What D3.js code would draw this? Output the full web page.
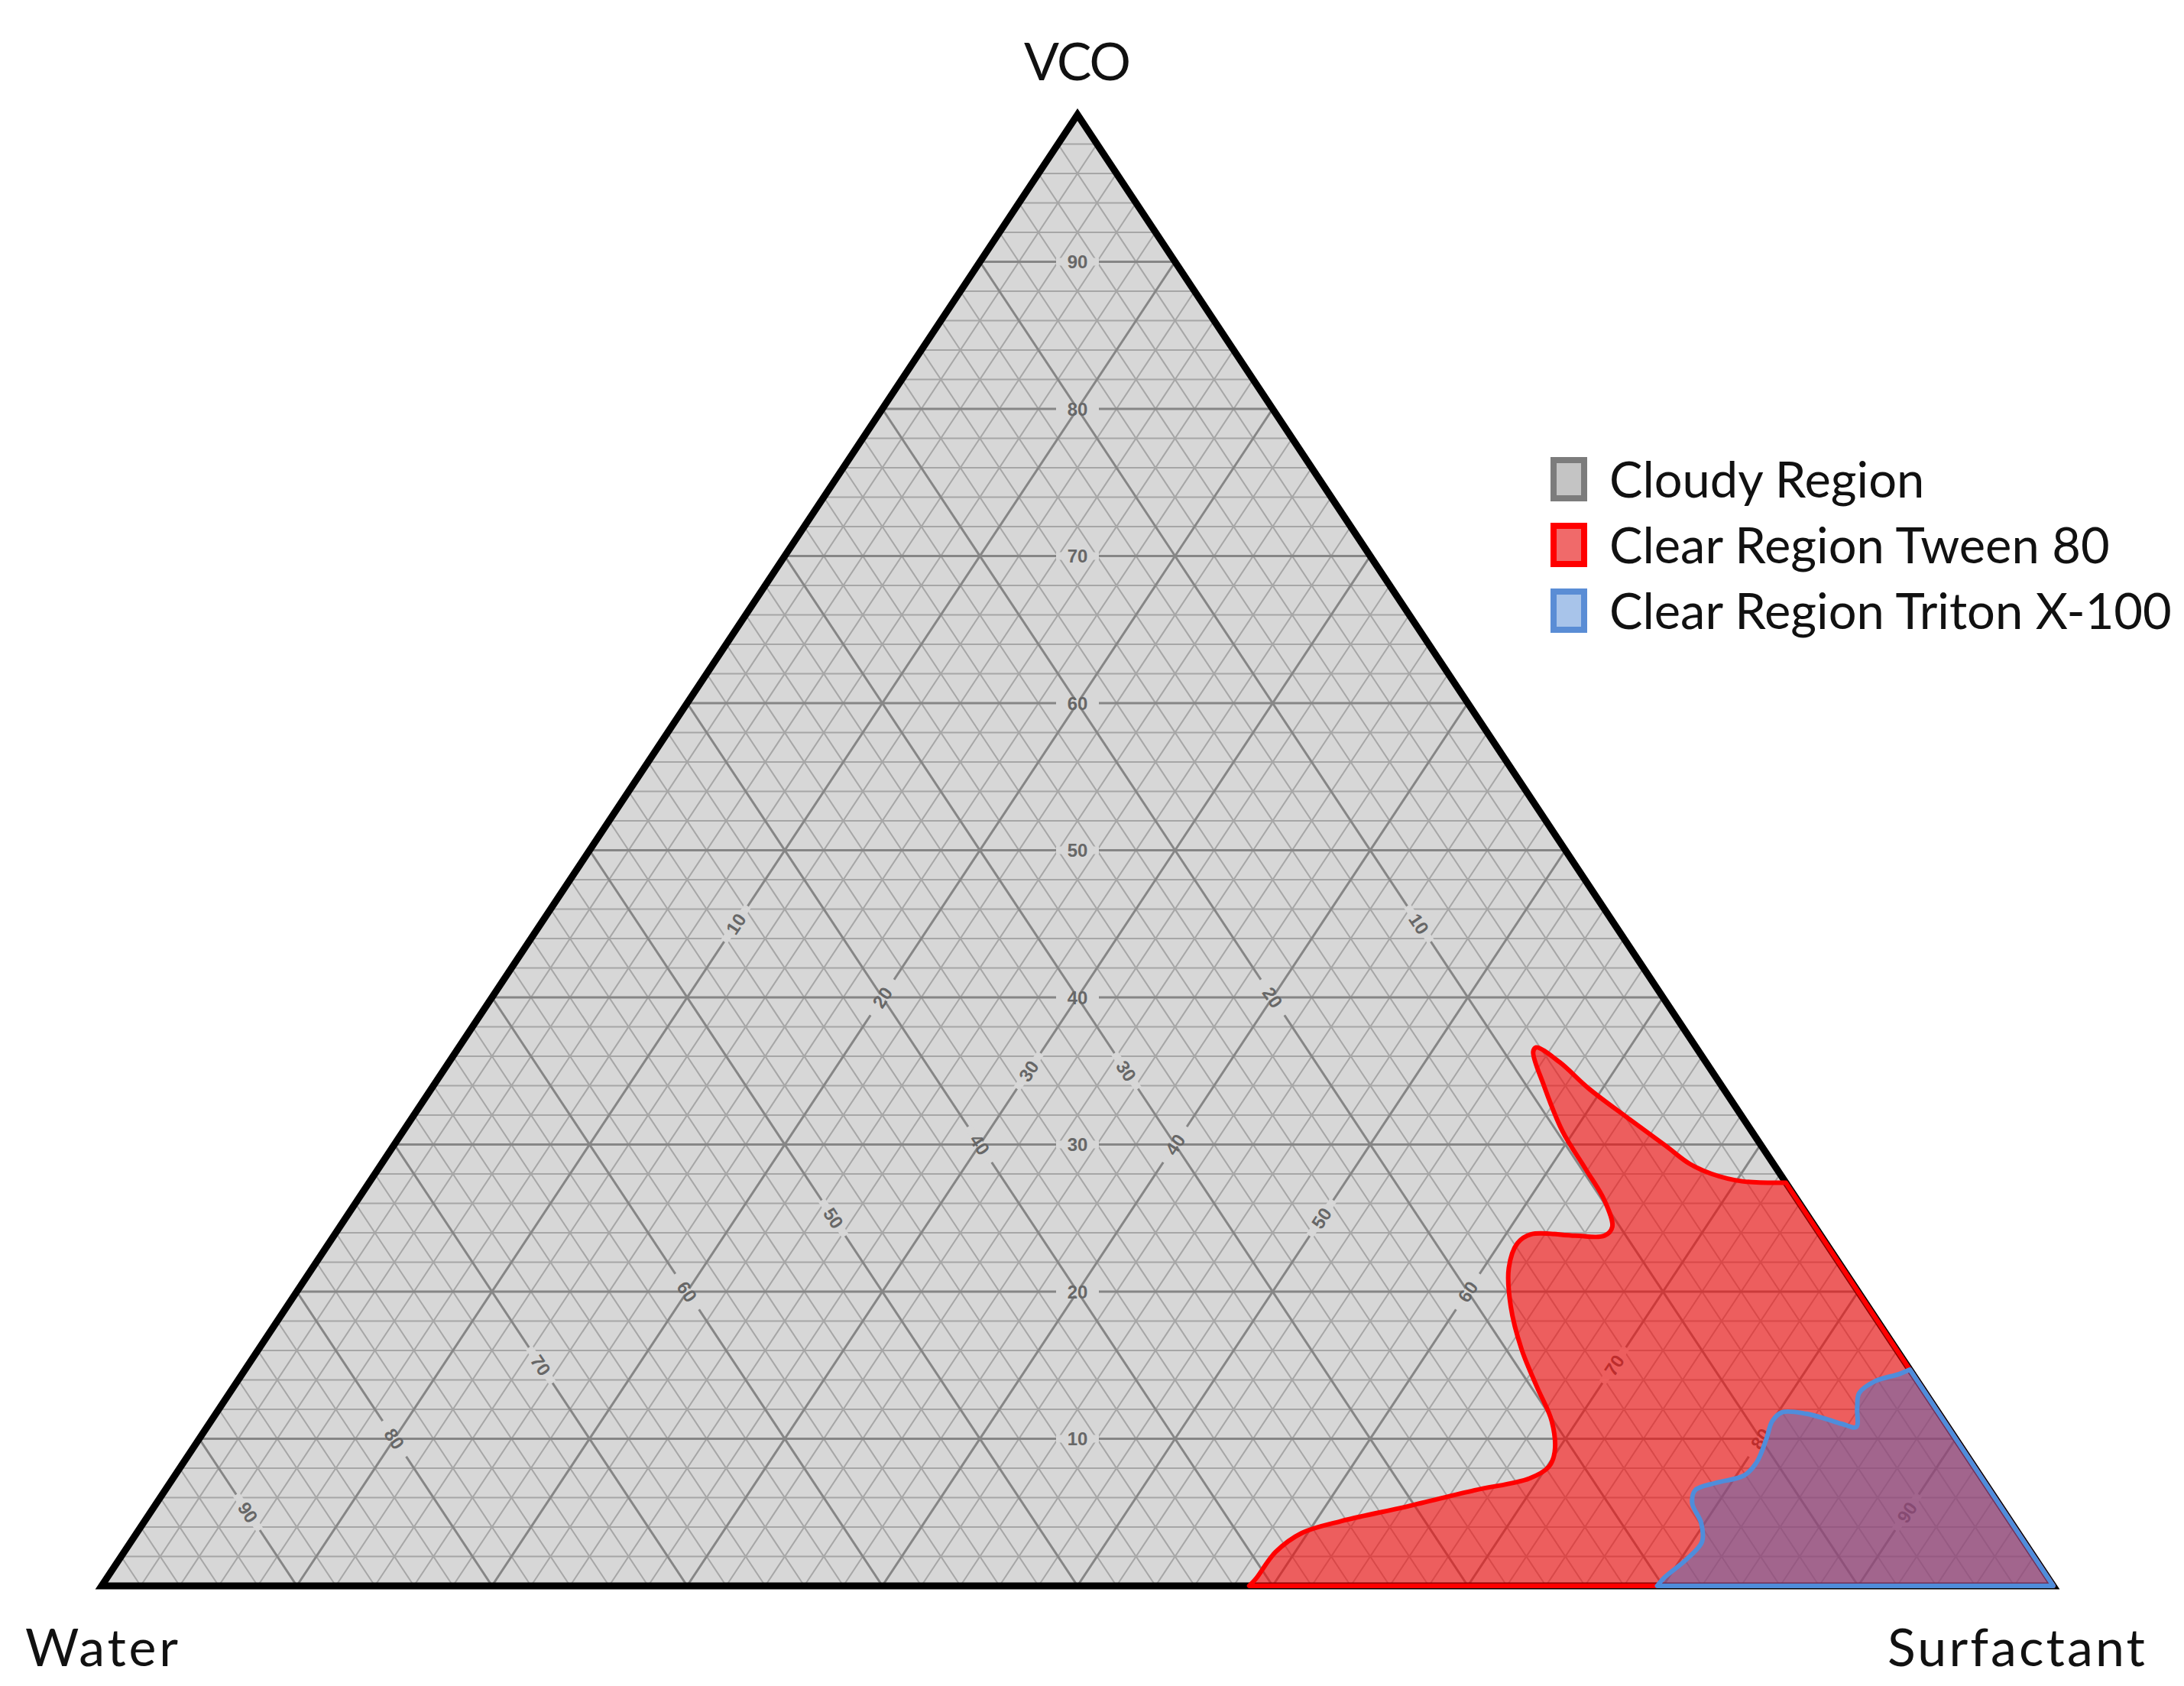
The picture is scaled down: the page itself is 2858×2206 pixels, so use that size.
<!DOCTYPE html>
<html>
<head>
<meta charset="utf-8">
<script src="https://cdn.jsdelivr.net/npm/d3@7"></script>
<style>
  html, body { margin: 0; padding: 0; background: #ffffff; }
  svg { display: block; }
</style>
</head>
<body>
<script>
// ---------------- DATA ----------------
const componentNames = ["VCO", "Water", "Surfactant"];
const majorTicks = [10, 20, 30, 40, 50, 60, 70, 80, 90];
const minorTicks = [2,4,6,8,12,14,16,18,22,24,26,28,32,34,36,38,42,44,46,48,52,54,56,58,62,64,66,68,72,74,76,78,82,84,86,88,92,94,96,98];

const legendLabels = ["Cloudy Region", "Clear Region Tween 80", "Clear Region Triton X-100"];

// Clear region (Tween 80) boundary, % : VCO, Surfactant (Water = 100 - VCO - Surfactant)
const tweenVCO  = [27.4,27.5,28.0,28.7,29.9,31.8,33.8,35.6,36.6,36.3,34.0,30.9,28.3,26.2,24.4,23.8,23.8,23.9,23.3,21.6,19.0,16.1,13.5,11.2,9.1,8.1,7.3,6.5,5.4,4.4,3.6,2.3,0.5,0];
const tweenSurf = [72.6,70.3,68.5,67.0,65.2,62.3,59.3,56.9,55.2,55.2,56.9,59.4,61.9,63.9,65.2,65.1,63.6,61.3,60.9,61.3,62.7,64.7,66.8,68.7,69.9,70.1,69.5,67.1,64.2,61.3,59.7,59.0,58.9,58.8];

// Clear region (Triton X-100) boundary, %
const tritonVCO  = [14.7,14.4,13.9,13.1,12.1,10.8,11.0,11.3,11.7,11.8,11.2,10.0,8.4,7.5,7.0,6.5,5.6,4.3,3.0,1.8,0.6,0];
const tritonSurf = [85.3,84.9,83.9,83.5,83.9,84.5,83.7,82.8,81.5,80.2,80.0,80.3,80.6,80.4,79.2,78.4,78.7,79.8,80.5,80.3,79.8,79.7];

// ---------------- LAYOUT ----------------
const W = 2858, H = 2206;
const svg = d3.select("body").append("svg").attr("width", W).attr("height", H);

// ternary position: x from (surfactant + vco/2), y from vco
const xScale = d3.scaleLinear().domain([0, 100]).range([133, 2687]);
const yScale = d3.scaleLinear().domain([0, 100]).range([2075, 150]);
const pt = (v, s) => [xScale(s + v / 2), yScale(v)];

const fillGray = "#d7d7d7";

// triangle
const tri = [pt(100, 0), pt(0, 0), pt(0, 100)];
svg.append("path")
  .attr("d", "M" + tri.map(p => p.join(",")).join("L") + "Z")
  .attr("fill", fillGray);

// grid
const gGrid = svg.append("g");
function gridLines(ticks, color, width) {
  ticks.forEach(t => {
    const segs = [
      [pt(t, 0), pt(t, 100 - t)],            // VCO constant
      [pt(0, t), pt(100 - t, t)],            // Surfactant constant
      [pt(0, 100 - t), pt(100 - t, 0)]       // Water constant
    ];
    segs.forEach(sg => {
      gGrid.append("line")
        .attr("x1", sg[0][0]).attr("y1", sg[0][1])
        .attr("x2", sg[1][0]).attr("y2", sg[1][1])
        .attr("stroke", color).attr("stroke-width", width);
    });
  });
}
gridLines(minorTicks, "#a6a6a6", 2);
gridLines(majorTicks, "#868686", 3);

// tick labels along medians
const angLeft = Math.atan2(yScale(100) - yScale(0), xScale(50) - xScale(0)) * 180 / Math.PI; // ~ -56
const gLab = svg.append("g");
function tickLabel(p, angle, txt) {
  const g = gLab.append("g").attr("transform", `translate(${p[0]},${p[1]}) rotate(${angle})`);
  g.append("rect").attr("x", -28).attr("y", -5).attr("width", 56).attr("height", 10).attr("fill", fillGray);
  g.append("text").attr("text-anchor", "middle").attr("dy", "0.36em")
    .attr("font-family", "Liberation Sans, Arial, sans-serif").attr("font-weight", "bold")
    .attr("font-size", 24).attr("fill", "#676767").text(txt);
}
majorTicks.forEach(t => {
  const o = (100 - t) / 2;
  tickLabel(pt(t, o), 0, t);               // VCO
  tickLabel(pt(o, t), angLeft, t);         // Surfactant
  tickLabel(pt(o, o), -angLeft, t);        // Water
});

// triangle outline
svg.append("path")
  .attr("d", "M" + tri.map(p => p.join(",")).join("L") + "Z")
  .attr("fill", "none").attr("stroke", "#000").attr("stroke-width", 9)
  .attr("stroke-linejoin", "miter");

// regions
const curve = d3.line().curve(d3.curveCatmullRom.alpha(0.5));
function regionPath(vArr, sArr) {
  const pts = vArr.map((v, i) => pt(v, sArr[i]));
  return curve(pts) + "L" + pt(0, 100).join(",") + "Z";
}
svg.append("path")
  .attr("d", regionPath(tweenVCO, tweenSurf))
  .attr("fill", "rgba(255,0,0,0.56)")
  .attr("stroke", "#ff0000").attr("stroke-width", 6).attr("stroke-linejoin", "round");
svg.append("path")
  .attr("d", regionPath(tritonVCO, tritonSurf))
  .attr("fill", "rgba(70,110,200,0.45)")
  .attr("stroke", "#4f8ddb").attr("stroke-width", 6).attr("stroke-linejoin", "round");

// axis titles
const titleFont = "Lato, 'Open Sans', sans-serif";
function title(x, y, anchor, txt, len) {
  svg.append("text").attr("x", x).attr("y", y).attr("text-anchor", anchor)
    .attr("font-family", titleFont).attr("font-size", 68).attr("fill", "#111")
    .attr("textLength", len).attr("lengthAdjust", "spacing").text(txt);
}
title(1410, 105, "middle", componentNames[0], 140);
title(33, 2180, "start", componentNames[1], 200);
title(2807, 2180, "end", componentNames[2], 337);

// legend
const swFill = ["#c4c4c4", "#f06a6a", "#a8c4ea"];
const swStroke = ["#7c7c7c", "#ff0000", "#5a8dd5"];
legendLabels.forEach((lab, i) => {
  const cy = 627 + i * 86;
  svg.append("rect").attr("x", 2033).attr("y", cy - 25).attr("width", 40).attr("height", 50)
    .attr("fill", swFill[i]).attr("stroke", swStroke[i]).attr("stroke-width", 8);
  svg.append("text").attr("x", 2106).attr("y", cy + 24)
    .attr("font-family", titleFont).attr("font-size", 65).attr("fill", "#111").text(lab);
});
</script>
</body>
</html>
